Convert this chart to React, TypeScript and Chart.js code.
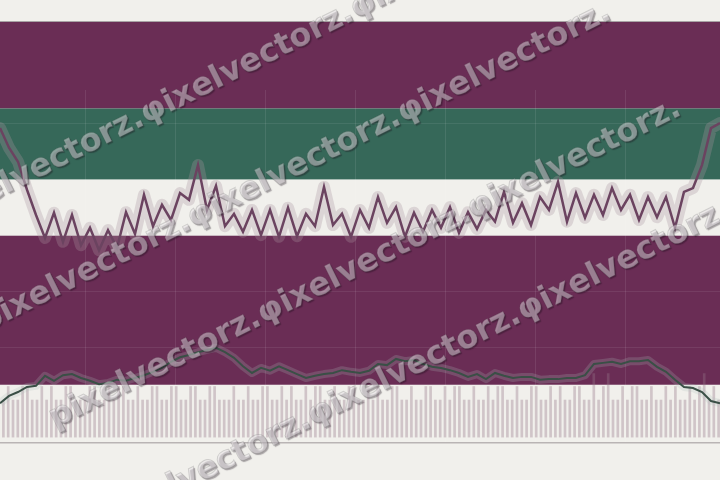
import { useEffect, useRef } from 'react';
import { Chart, registerables } from 'chart.js';

Chart.register(...registerables);

// Main oscillator (upper line)
const mainSeries = [
  49.2, 45.7, 43.2, 38.2, 33.7, 29.6, 34.1, 28.9, 33.7, 28.3,
  31.4, 27.4, 31.0, 27.8, 34.2, 30.3, 37.3, 31.7, 35.5, 32.8,
  37.6, 36.4, 42.6, 34.6, 38.9, 31.7, 33.9, 30.7, 34.6, 30.1,
  34.6, 29.8, 35.0, 29.9, 33.9, 31.7, 38.7, 31.9, 33.9, 29.8,
  34.6, 31.4, 36.9, 32.3, 35.1, 29.8, 34.1, 30.7, 34.6, 31.4,
  35.1, 30.5, 34.2, 31.2, 34.6, 32.5, 37.8, 32.3, 35.8, 31.9,
  36.9, 34.6, 39.6, 32.5, 37.6, 33.2, 37.3, 33.7, 38.5, 34.6,
  37.3, 32.8, 36.9, 33.3, 36.9, 31.4, 37.8, 38.5, 42.6, 49.2,
  50.1,
];

// Smoothed signal (lower line)
const signalSeries = [
  0.1, 1.4, 2.1, 3.0, 3.2, 5.0, 4.1, 5.1, 5.3, 4.6,
  4.1, 3.5, 3.7, 4.3, 4.1, 4.6, 5.1, 5.7, 6.4, 7.5,
  8.3, 8.7, 9.2, 9.6, 10.0, 9.2, 8.2, 6.7, 5.5, 6.4,
  5.9, 6.7, 6.0, 5.3, 4.6, 5.0, 5.3, 5.5, 6.0, 5.7,
  5.5, 5.9, 7.1, 6.9, 8.0, 7.6, 7.8, 7.1, 6.6, 6.4,
  6.0, 5.5, 4.8, 5.3, 4.4, 5.5, 5.0, 4.6, 4.8, 4.8,
  4.3, 4.4, 4.4, 4.6, 4.6, 5.1, 7.1, 7.3, 7.5, 7.1,
  7.6, 7.6, 7.8, 6.6, 5.7, 4.3, 3.0, 2.8, 2.1, 0.5,
  0.1,
];

// Volume bars
const volumeSeries = [
  6.3, 8.6, 6.3, 6.3, 8.6, 8.6, 6.3, 6.3, 8.6, 6.3,
  8.6, 6.3, 6.3, 8.6, 8.6, 6.3, 6.3, 6.3, 8.6, 8.6,
  6.3, 6.3, 8.6, 6.3, 8.6, 8.6, 6.3, 6.3, 8.6, 6.3,
  6.3, 8.6, 8.6, 6.3, 6.3, 8.6, 8.6, 6.3, 6.3, 8.6,
  8.6, 6.3, 6.3, 8.6, 8.6, 6.3, 6.3, 6.3, 8.6, 6.3,
  6.3, 8.6, 6.3, 6.3, 8.6, 8.6, 6.3, 6.3, 8.6, 6.3,
  8.6, 6.3, 6.3, 8.6, 6.3, 8.6, 8.6, 6.3, 6.3, 8.6,
  6.3, 6.3, 8.6, 8.6, 6.3, 6.3, 8.6, 6.3, 8.6, 6.3,
  6.3, 8.6, 8.6, 6.3, 6.3, 8.6, 6.3, 6.3, 8.6, 8.6,
  6.3, 6.3, 8.6, 6.3, 8.6, 8.6, 6.3, 6.3, 8.6, 6.3,
  6.3, 8.6, 6.3, 8.6, 8.6, 6.3, 6.3, 8.6, 6.3, 6.3,
  8.6, 8.6, 6.3, 6.3, 8.6, 6.3, 8.6, 6.3, 6.3, 8.6,
  8.6, 6.3, 6.3, 10.8, 6.3, 8.6, 10.8, 6.3, 6.3, 8.6,
  6.3, 8.6, 8.6, 6.3, 6.3, 8.6, 6.3, 6.3, 8.6, 6.3,
  8.6, 6.3, 6.3, 8.6, 6.3, 8.6, 10.8, 6.3, 8.6, 6.3,
];

// Background zones (value ranges on the main axis)
const bandTop = [68.2, 52.7, 40, 30];
const bandBottom = [52.7, 40, 30, 3.4];
const bandFill = ['#6a2d55', '#366859', '#f1f0ec', '#6a2d55'];

const lineLabels = mainSeries.map((_, i) => String(i + 1));
const barLabels = volumeSeries.map((_, i) => String(i + 1));

const watermarkText = 'pixelvectorz.\u03c6ixelvectorz.\u03c6ixelvectorz.';
const watermarkRows: [number, number][] = [[-62, 228], [-15, 332], [55, 428], [105, 530]];

export default function App() {
  const ref = useRef<HTMLCanvasElement>(null);

  useEffect(() => {
    document.body.style.margin = '0';
    const canvas = ref.current;
    if (!canvas) return;

    const bandsPlugin = {
      id: 'bands',
      beforeDraw(chart: any) {
        const { ctx, chartArea, scales } = chart;
        const y = scales.y;
        ctx.save();
        ctx.fillStyle = '#f1f0ec';
        ctx.fillRect(0, 0, chart.width, chart.height);
        bandTop.forEach((t, i) => {
          const y0 = y.getPixelForValue(t);
          const y1 = y.getPixelForValue(bandBottom[i]);
          ctx.fillStyle = bandFill[i];
          ctx.fillRect(chartArea.left, y0, chartArea.right - chartArea.left, y1 - y0);
        });
        const yt = Math.round(y.getPixelForValue(bandTop[0]));
        ctx.strokeStyle = '#a9a3a5';
        ctx.lineWidth = 1;
        ctx.beginPath();
        ctx.moveTo(chartArea.left, yt - 0.5);
        ctx.lineTo(chartArea.right, yt - 0.5);
        ctx.stroke();
        ctx.restore();
      },
    };

    const watermarkPlugin = {
      id: 'watermark',
      afterDraw(chart: any) {
        const { ctx } = chart;
        ctx.save();
        ctx.font = 'bold 32px "DejaVu Sans"';
        ctx.textBaseline = 'alphabetic';
        const ang = -Math.atan(0.5);
        watermarkRows.forEach(([x, y]) => {
          ctx.save();
          ctx.translate(x, y);
          ctx.rotate(ang);
          ctx.shadowColor = 'rgba(20,10,20,0.7)';
          ctx.shadowOffsetX = 1.5;
          ctx.shadowOffsetY = 1.5;
          ctx.shadowBlur = 1;
          ctx.fillStyle = 'rgba(236,232,236,0.48)';
          ctx.fillText(watermarkText, 0, 0);
          ctx.shadowColor = 'rgba(0,0,0,0)';
          ctx.strokeStyle = 'rgba(90,90,90,0.22)';
          ctx.lineWidth = 1;
          ctx.strokeText(watermarkText, 0, 0);
          ctx.restore();
        });
        ctx.restore();
      },
    };

    const chart = new Chart(canvas, {
      type: 'bar',
      data: {
        datasets: [
          {
            type: 'line',
            label: 'main',
            data: mainSeries,
            xAxisID: 'xl',
            yAxisID: 'y',
            borderColor: '#6b4360',
            borderWidth: 2.5,
            pointRadius: 0,
            tension: 0,
            order: 1,
          } as any,
          {
            type: 'line',
            label: 'main halo',
            data: mainSeries,
            xAxisID: 'xl',
            yAxisID: 'y',
            borderColor: 'rgba(170,150,158,0.3)',
            borderWidth: 12,
            borderJoinStyle: 'round',
            borderCapStyle: 'round',
            pointRadius: 0,
            tension: 0,
            order: 2,
          } as any,
          {
            type: 'line',
            label: 'signal',
            data: signalSeries,
            xAxisID: 'xl',
            yAxisID: 'y',
            borderColor: '#3a4f46',
            borderWidth: 2,
            pointRadius: 0,
            tension: 0,
            order: 3,
          } as any,
          {
            type: 'line',
            label: 'signal halo',
            data: signalSeries,
            xAxisID: 'xl',
            yAxisID: 'y',
            borderColor: 'rgba(175,192,185,0.22)',
            borderWidth: 8,
            borderJoinStyle: 'round',
            pointRadius: 0,
            tension: 0,
            order: 4,
          } as any,
          {
            type: 'bar',
            label: 'volume',
            data: volumeSeries,
            xAxisID: 'x',
            yAxisID: 'y2',
            backgroundColor: 'rgba(150,118,135,0.36)',
            barThickness: 2,
            order: 5,
          } as any,
        ],
      },
      options: {
        animation: false,
        responsive: false,
        devicePixelRatio: 1,
        layout: { padding: { top: 90, bottom: 37, left: 0, right: 0 } },
        plugins: { legend: { display: false }, tooltip: { enabled: false } },
        scales: {
          x: {
            type: 'category',
            labels: barLabels,
            offset: true,
            display: false,
          },
          xl: {
            type: 'category',
            labels: lineLabels,
            offset: false,
            position: 'bottom',
            ticks: { display: false },
            grid: {
              drawTicks: false,
              color: (c: any) =>
                c.index % 10 === 0 && c.index > 0 && c.index < 80
                  ? 'rgba(255,255,255,0.09)'
                  : 'rgba(0,0,0,0)',
            },
            border: { display: true, color: '#b9b4b4', width: 1.5 },
          },
          y: {
            type: 'linear',
            min: -7,
            max: 56,
            ticks: { display: false, stepSize: 10 },
            grid: {
              drawTicks: false,
              color: (c: any) =>
                c.tick && c.tick.value % 10 === 0 && c.tick.value > 0 && c.tick.value < 56
                  ? 'rgba(255,255,255,0.08)'
                  : 'rgba(0,0,0,0)',
            },
            border: { display: false },
          },
          y2: {
            type: 'linear',
            min: -1,
            max: 59,
            display: false,
          },
        },
      } as any,
      plugins: [bandsPlugin, watermarkPlugin],
    });

    return () => chart.destroy();
  }, []);

  return (
    <div style={{ position: 'fixed', left: 0, top: 0, width: 720, height: 480 }}>
      <canvas ref={ref} width={720} height={480} style={{ display: 'block' }} />
    </div>
  );
}
